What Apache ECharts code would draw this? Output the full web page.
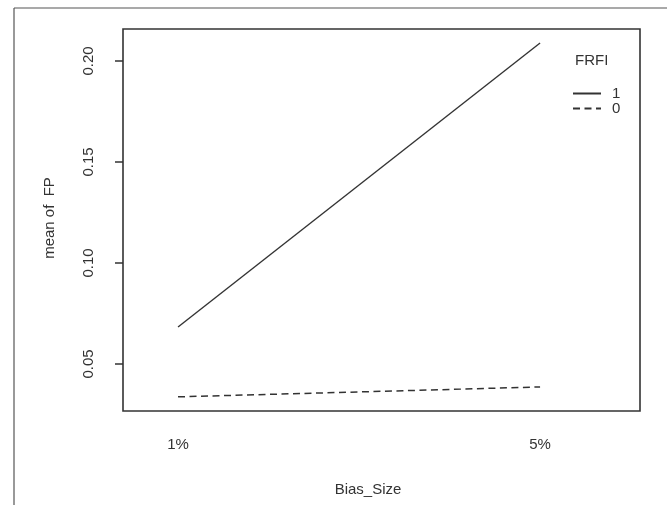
<!DOCTYPE html>
<html><head><meta charset="utf-8">
<script src="https://cdn.jsdelivr.net/npm/echarts@6/dist/echarts.min.js"></script>
<style>html,body{margin:0;padding:0;background:#fff}#c{width:667px;height:505px}</style>
</head><body><div id="c"></div>
<script>
const categories = ['1%', '5%'];
const categoryPos = [1, 2];
const seriesNames = ['1', '0'];
const fp1 = [0.0683, 0.2089];
const fp0 = [0.0337, 0.0386];
const yTicks = [0.05, 0.10, 0.15, 0.20];

const FONT = '"Liberation Sans", Arial, sans-serif';
const ink = '#333';
const chart = echarts.init(document.getElementById('c'), null, {renderer: 'canvas'});
function pts(vals) { return vals.map((v, i) => [categoryPos[i], v]); }
chart.setOption({
  animation: false,
  backgroundColor: '#fff',
  grid: {left: 123, top: 29, right: 27, bottom: 94, show: true, borderColor: '#333', borderWidth: 1.6, backgroundColor: 'transparent'},
  xAxis: {
    type: 'value', min: 0.848, max: 2.276,
    axisLine: {show: false}, splitLine: {show: false},
    axisTick: {show: false},
    axisLabel: {customValues: categoryPos, formatter: v => categories[categoryPos.indexOf(v)] || '',
      fontFamily: FONT, fontSize: 15, color: ink, margin: 26}
  },
  yAxis: {
    type: 'value', min: 0.0267, max: 0.2158,
    axisLine: {show: false}, splitLine: {show: false},
    axisTick: {show: true, customValues: yTicks, length: 8, lineStyle: {color: '#333', width: 1.5}},
    axisLabel: {customValues: yTicks, rotate: 90, formatter: v => v.toFixed(2),
      fontFamily: FONT, fontSize: 15, color: ink, margin: 27}
  },
  legend: {
    orient: 'vertical', left: 572, top: 86, padding: 0, itemGap: 0, itemWidth: 28, itemHeight: 14,
    itemStyle: {opacity: 0},
    textStyle: {fontFamily: FONT, fontSize: 15, color: ink, lineHeight: 14, padding: [0,0,0,6]},
    data: seriesNames
  },
  series: [
    {name: seriesNames[0], type: 'line', data: pts(fp1), symbol: 'none', lineStyle: {color: '#333', width: 1.4, type: 'solid'}, itemStyle: {color: '#333'}},
    {name: seriesNames[1], type: 'line', data: pts(fp0), symbol: 'none', lineStyle: {color: '#333', width: 1.5, type: [7, 4.5]}, itemStyle: {color: '#333'}}
  ],
  graphic: [
    {type: 'line', shape: {x1: 14, y1: 8, x2: 667, y2: 8}, style: {stroke: '#555', lineWidth: 1.2}},
    {type: 'line', shape: {x1: 14, y1: 8, x2: 14, y2: 505}, style: {stroke: '#555', lineWidth: 1.2}},
    {type: 'text', left: 575, top: 53, style: {text: 'FRFI', font: '15px ' + FONT, fill: ink}},
    {type: 'text', x: 368, y: 490, style: {text: 'Bias_Size', font: '15px ' + FONT, fill: ink, align: 'center', verticalAlign: 'middle'}},
    {type: 'text', x: 50, y: 218, rotation: Math.PI / 2, style: {text: 'mean of  FP', font: '15px ' + FONT, fill: ink, align: 'center', verticalAlign: 'middle'}}
  ]
});
</script></body></html>
